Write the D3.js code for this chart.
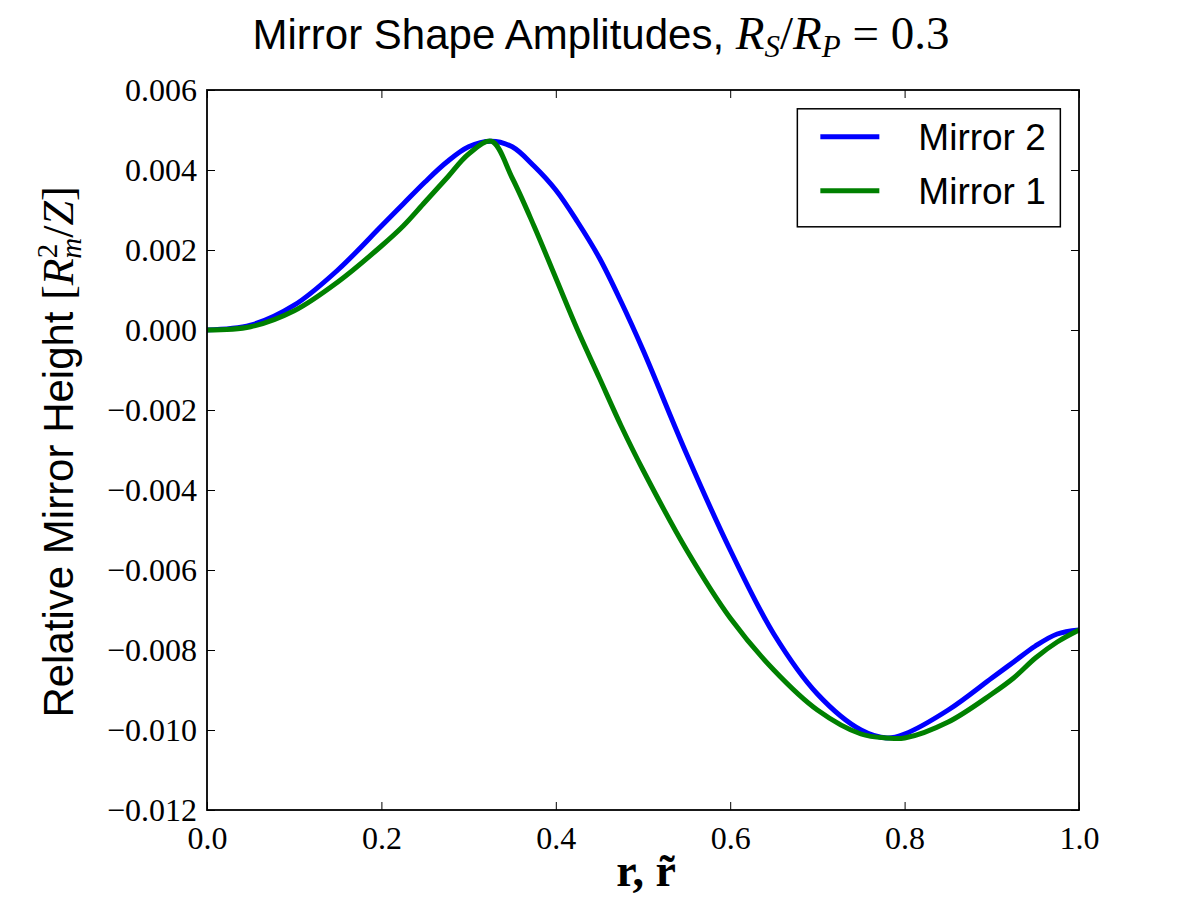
<!DOCTYPE html>
<html>
<head>
<meta charset="utf-8">
<script src="https://cdn.jsdelivr.net/npm/d3@7"></script>
<style>
  body { margin: 0; background: #fff; }
  .tick text { font-family: "Liberation Serif", "DejaVu Serif", serif; }
</style>
</head>
<body>
<svg id="chart" width="1200" height="900"></svg>
<script>
// radius samples and mirror heights
const rVals = [0, 0.05, 0.1, 0.15, 0.2, 0.225, 0.25, 0.275, 0.3, 0.326, 0.35, 0.375, 0.4, 0.425, 0.45, 0.475, 0.5,
  0.55, 0.6, 0.65, 0.7, 0.75, 0.78, 0.8, 0.85, 0.9, 0.925, 0.95, 0.975, 1.0];
const mirror2 = [0, 0.00012, 0.00062, 0.0015, 0.0026, 0.00315, 0.0037, 0.0042, 0.00458, 0.00472, 0.00458, 0.0041, 0.0035, 0.0027, 0.0018, 0.0007, -0.0005,
  -0.0031, -0.0055, -0.0076, -0.0091, -0.0100, -0.0102, -0.0101, -0.0095, -0.0087, -0.0083, -0.0079, -0.0076, -0.0075];
const mirror1 = [0, 0.00008, 0.00048, 0.0012, 0.0021, 0.0026, 0.0032, 0.0038, 0.0044, 0.00472, 0.0038, 0.0026, 0.0013, 0.0, -0.0012, -0.0024, -0.0035,
  -0.0055, -0.0072, -0.0085, -0.0095, -0.0101, -0.0102, -0.0102, -0.0098, -0.0091, -0.0087, -0.0082, -0.0078, -0.0075];
const seriesNames = ["Mirror 2", "Mirror 1"];
const seriesColors = ["#0000ff", "#008000"];
const xTicks = [0, 0.2, 0.4, 0.6, 0.8, 1.0];
const yTicks = [-0.012, -0.010, -0.008, -0.006, -0.004, -0.002, 0, 0.002, 0.004, 0.006];

const svg = d3.select("#chart");
const margin = { top: 90, right: 121, bottom: 90, left: 207 };
const width = 1200 - margin.left - margin.right;
const height = 900 - margin.top - margin.bottom;

const g = svg.append("g")
  .attr("transform", `translate(${margin.left},${margin.top})`);

const x = d3.scaleLinear().domain([0, 1]).range([0, width]);
const y = d3.scaleLinear().domain([-0.012, 0.006]).range([height, 0]);

const fmtY = d3.format(".3f");
const fmtX = d3.format(".1f");
const mathFont = "Liberation Serif, DejaVu Serif, serif";
const sansFont = "Liberation Sans, Arial, sans-serif";

// axes with inward ticks on all four sides
function styleAxis(sel, showText) {
  sel.select(".domain").remove();
  sel.selectAll(".tick line").attr("stroke", "#000").attr("stroke-width", 1);
  sel.selectAll(".tick text")
    .attr("font-size", 32)
    .attr("fill", "#000")
    .style("display", showText ? null : "none");
}

g.append("g")
  .attr("transform", `translate(0,${height})`)
  .call(d3.axisBottom(x).tickValues(xTicks).tickFormat(fmtX).tickSizeInner(-8).tickPadding(16))
  .call(s => styleAxis(s, true));

g.append("g")
  .call(d3.axisTop(x).tickValues(xTicks).tickSizeInner(-8))
  .call(s => styleAxis(s, false));

g.append("g")
  .call(d3.axisLeft(y).tickValues(yTicks).tickFormat(fmtY).tickSizeInner(-8).tickPadding(10))
  .call(s => styleAxis(s, true));

g.append("g")
  .attr("transform", `translate(${width},0)`)
  .call(d3.axisRight(y).tickValues(yTicks).tickSizeInner(-8))
  .call(s => styleAxis(s, false));

// curves
const line = d3.line()
  .x(d => x(d[0]))
  .y(d => y(d[1]))
  .curve(d3.curveCatmullRom.alpha(0.5));

[mirror2, mirror1].forEach((vals, i) => {
  g.append("path")
    .datum(rVals.map((r, j) => [r, vals[j]]))
    .attr("fill", "none")
    .attr("stroke", seriesColors[i])
    .attr("stroke-width", 5)
    .attr("d", line);
});

// frame
g.append("rect")
  .attr("width", width).attr("height", height)
  .attr("fill", "none").attr("stroke", "#000").attr("stroke-width", 1.8);

// legend
const leg = g.append("g").attr("transform", `translate(${x(0.677)},${y(0.00553)})`);
leg.append("rect")
  .attr("width", 263).attr("height", 118)
  .attr("fill", "#fff").attr("stroke", "#000").attr("stroke-width", 1.5);
seriesNames.forEach((name, i) => {
  const cy = 28 + i * 54;
  leg.append("line")
    .attr("x1", 23).attr("x2", 82).attr("y1", cy).attr("y2", cy)
    .attr("stroke", seriesColors[i]).attr("stroke-width", 5);
  leg.append("text")
    .attr("x", 121).attr("y", cy + 13)
    .attr("font-family", sansFont)
    .attr("font-size", 37)
    .text(name);
});

// title
const title = svg.append("text")
  .attr("x", 601).attr("y", 49)
  .attr("text-anchor", "middle")
  .attr("font-size", 42)
  .attr("font-family", sansFont);
title.append("tspan").text("Mirror Shape Amplitudes, ");
title.append("tspan").attr("font-family", mathFont).attr("font-style", "italic").attr("font-size", 47).text("R");
title.append("tspan").attr("font-family", mathFont).attr("font-style", "italic").attr("font-size", 31).attr("dy", 8).text("S");
title.append("tspan").attr("font-family", mathFont).attr("font-size", 47).attr("dy", -8).text("/");
title.append("tspan").attr("font-family", mathFont).attr("font-style", "italic").attr("font-size", 47).text("R");
title.append("tspan").attr("font-family", mathFont).attr("font-style", "italic").attr("font-size", 31).attr("dy", 8).text("P");
title.append("tspan").attr("font-family", mathFont).attr("font-size", 47).attr("dy", -8).text("\u2005=\u20050.3");

// y label
const ylab = svg.append("text")
  .attr("transform", `translate(73,${margin.top + height / 2 + 2}) rotate(-90)`)
  .attr("text-anchor", "middle")
  .attr("font-size", 42)
  .attr("font-family", sansFont);
ylab.append("tspan").text("Relative Mirror Height ");
ylab.append("tspan").attr("font-family", mathFont).attr("font-size", 44).text("[");
ylab.append("tspan").attr("font-family", mathFont).attr("font-style", "italic").attr("font-size", 44).text("R");
ylab.append("tspan").attr("font-family", mathFont).attr("font-size", 29).attr("dy", -16).text("2");
ylab.append("tspan").attr("font-family", mathFont).attr("font-style", "italic").attr("font-size", 29).attr("dx", -15).attr("dy", 24).text("m");
ylab.append("tspan").attr("font-family", mathFont).attr("font-size", 44).attr("dy", -8).text("/");
ylab.append("tspan").attr("font-family", mathFont).attr("font-style", "italic").attr("font-size", 44).text("Z");
ylab.append("tspan").attr("font-family", mathFont).attr("font-size", 44).text("]");

// x label
svg.append("text")
  .attr("x", 646).attr("y", 886)
  .attr("text-anchor", "middle")
  .attr("font-size", 46)
  .attr("font-weight", "bold")
  .attr("font-family", mathFont)
  .text("r, r\u0303");
</script>
</body>
</html>
